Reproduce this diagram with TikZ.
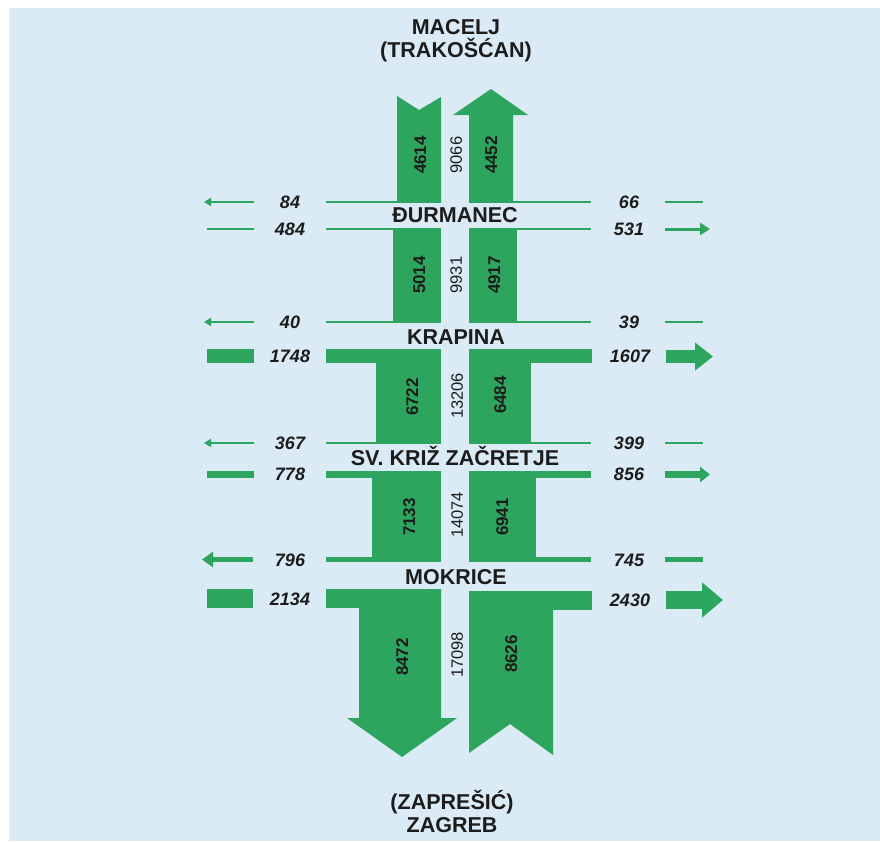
\documentclass[tikz,border=0pt]{standalone}
\usepackage{fontspec}
\setmainfont{Liberation Sans}
\usetikzlibrary{arrows.meta}
\definecolor{flowgreen}{RGB}{46,165,94}
\definecolor{bgblue}{RGB}{219,235,246}
\definecolor{txtgray}{RGB}{28,28,28}

\begin{document}
\begin{tikzpicture}[x=1pt, y=-1pt,
    flow/.style={fill=flowgreen},
    ramp/.style={draw=flowgreen, line cap=butt},
    station/.style={font=\fontsize{21.5}{23}\selectfont\bfseries, text=txtgray,
        inner sep=0pt, text height=15pt, text depth=0pt},
    count/.style={font=\fontsize{18}{18}\selectfont\bfseries\itshape, text=txtgray,
        inner sep=0pt, text height=12.9pt, text depth=0pt},
    lane/.style={font=\fontsize{17}{17}\selectfont\bfseries, text=txtgray, rotate=90,
        inner sep=0pt, text height=12.2pt, text depth=0pt},
    total/.style={font=\fontsize{16.5}{16.5}\selectfont, text=txtgray, rotate=90,
        inner sep=0pt, text height=11.8pt, text depth=0pt}]
    % 背景
    \fill[white] (0,0) rectangle (880,841);
    \fill[bgblue] (9,8) rectangle (880,841);
    \useasboundingbox (0,0) rectangle (880,841);

    % 主线车流
    \fill[flow] (397,202) -- (397,96) -- (419,110) -- (441,97) -- (441,202) -- cycle;
    \fill[flow] (469,202) -- (469,115) -- (453,115) -- (491,89) -- (528,115)
        -- (513,115) -- (513,202) -- cycle;
    \fill[flow] (393,229) rectangle (441,322);
    \fill[flow] (469,229) rectangle (517,322);
    \fill[flow] (376,349) rectangle (441,443);
    \fill[flow] (469,349) rectangle (531,443);
    \fill[flow] (372,471) rectangle (441,562);
    \fill[flow] (469,471) rectangle (536,562);
    \fill[flow] (359,589) -- (441,589) -- (441,718) -- (457,718) -- (402,757)
        -- (347,718) -- (359,718) -- cycle;
    \fill[flow] (469,591) -- (553,591) -- (553,755) -- (510,724) -- (469,753) -- cycle;

    % 匝道 Đurmanec
    \draw[ramp, line width=1.3pt, -{Triangle[length=7pt, width=8pt]}] (254,202) -- (204,202);
    \draw[ramp, line width=1.3pt] (326,202) -- (441,202) (469,202) -- (591,202)
        (665,202) -- (703,202);
    \draw[ramp, line width=1.7pt] (207,229) -- (254,229) (326,229) -- (441,229);
    \draw[ramp, line width=2.4pt] (469,229) -- (591,229);
    \draw[ramp, line width=3pt, -{Triangle[length=10pt, width=12pt]}] (665,229) -- (710,229);

    % 匝道 Krapina
    \draw[ramp, line width=1.2pt, -{Triangle[length=7pt, width=8pt]}] (254,322) -- (204,322);
    \draw[ramp, line width=1.2pt] (326,322) -- (441,322) (469,322) -- (591,322)
        (665,322) -- (703,322);
    \fill[flow] (207,349) rectangle (254,363);
    \fill[flow] (326,349) rectangle (441,363);
    \fill[flow] (469,349) rectangle (592,363);
    \draw[ramp, line width=13.5pt, -{Triangle[length=18pt, width=27pt]}] (666,356.5) -- (713,356.5);

    % 匝道 Sv. Križ Začretje
    \draw[ramp, line width=1.3pt, -{Triangle[length=7pt, width=8pt]}] (254,443) -- (204,443);
    \draw[ramp, line width=1.3pt] (326,443) -- (441,443) (469,443) -- (591,443)
        (665,443) -- (703,443);
    \fill[flow] (207,471) rectangle (254,478);
    \fill[flow] (326,471) rectangle (441,478);
    \fill[flow] (469,471) rectangle (591,478);
    \draw[ramp, line width=7pt, -{Triangle[length=10pt, width=15pt]}] (665,474.5) -- (710,474.5);

    % 匝道 Mokrice
    \draw[ramp, line width=5pt, -{Triangle[length=11pt, width=15pt]}] (253,559.5) -- (202,559.5);
    \fill[flow] (326,557) rectangle (441,562);
    \fill[flow] (469,557) rectangle (591,562);
    \fill[flow] (665,557) rectangle (703,562);
    \fill[flow] (207,589) rectangle (253,608);
    \fill[flow] (326,589) rectangle (441,608);
    \fill[flow] (469,591) rectangle (592,610);
    \draw[ramp, line width=18pt, -{Triangle[length=21pt, width=34pt]}] (666,600) -- (723,600);

    % 地名
    \node[station] (macelj) at (456,27) {MACELJ};
    \node[station] (trakoscan) at (456,50) {(TRAKOŠĆAN)};
    \node[station] (durmanec) at (455,215) {ĐURMANEC};
    \node[station] (krapina) at (456,337) {KRAPINA};
    \node[station] (svkriz) at (455,458) {SV. KRIŽ ZAČRETJE};
    \node[station] (mokrice) at (456,577) {MOKRICE};
    \node[station] (zapresic) at (452,802) {(ZAPREŠIĆ)};
    \node[station] (zagreb) at (452,825) {ZAGREB};

    % 车流量
    \node[count] (c84) at (290,202) {84};
    \node[count] (c66) at (629,202) {66};
    \node[count] (c484) at (290,229) {484};
    \node[count] (c531) at (629,229) {531};
    \node[count] (c40) at (290,322) {40};
    \node[count] (c39) at (629,322) {39};
    \node[count] (c1748) at (290,356) {1748};
    \node[count] (c1607) at (630,356) {1607};
    \node[count] (c367) at (290,443) {367};
    \node[count] (c399) at (629,443) {399};
    \node[count] (c778) at (290,474.5) {778};
    \node[count] (c856) at (629,474.5) {856};
    \node[count] (c796) at (290,560) {796};
    \node[count] (c745) at (629,560) {745};
    \node[count] (c2134) at (290,599) {2134};
    \node[count] (c2430) at (630,600) {2430};

    \node[lane] (l4614) at (420,155) {4614};
    \node[total] (t9066) at (456,155) {9066};
    \node[lane] (l4452) at (491,155) {4452};
    \node[lane] (l5014) at (419,275) {5014};
    \node[total] (t9931) at (456,275) {9931};
    \node[lane] (l4917) at (494,275) {4917};
    \node[lane] (l6722) at (412,397) {6722};
    \node[total] (t13206) at (457,396) {13206};
    \node[lane] (l6484) at (500,395) {6484};
    \node[lane] (l7133) at (409,517) {7133};
    \node[total] (t14074) at (457,515) {14074};
    \node[lane] (l6941) at (502,517) {6941};
    \node[lane] (l8472) at (402,657) {8472};
    \node[total] (t17098) at (457,655) {17098};
    \node[lane] (l8626) at (511,654) {8626};
\end{tikzpicture}
\end{document}
